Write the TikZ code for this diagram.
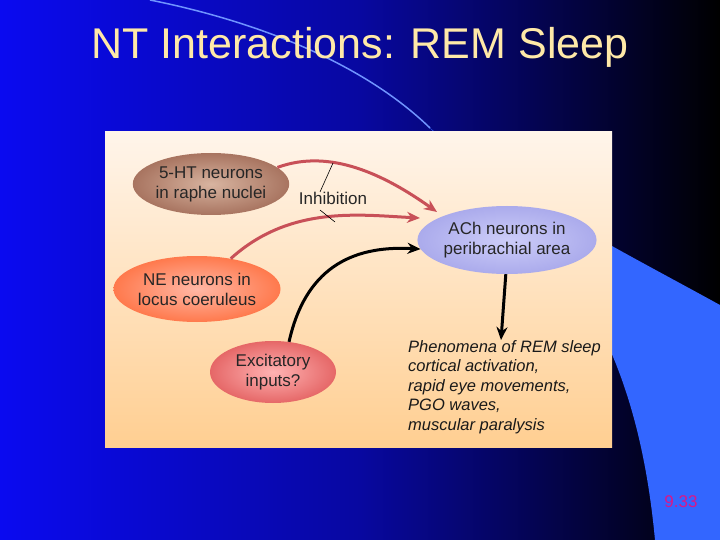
\documentclass[tikz,border=0pt]{standalone}
\usepackage{fontspec}
\setmainfont{Liberation Sans}
\usetikzlibrary{arrows.meta,shapes.geometric}
\definecolor{bgblue}{HTML}{0A0AF0}
\definecolor{midblue}{HTML}{0808A0}
\definecolor{shapeblue}{HTML}{3366FF}
\definecolor{redarrow}{HTML}{C85058}
\definecolor{titlecol}{HTML}{FFE9A8}
\definecolor{htin}{HTML}{D8B4A0}
\definecolor{htout}{HTML}{A87460}
\tikzset{
  ell/.style={ellipse,minimum width=#1,inner sep=0pt,align=center,font=\fontsize{17}{20}\selectfont,text=black!85},
  redar/.style={draw=redarrow,line width=3pt,-{Stealth[length=13pt,width=11pt]}},
  blkar/.style={draw=black,line width=3pt,-{Stealth[length=13pt,width=11pt]}},
}
\begin{document}
\begin{tikzpicture}[x=1pt,y=-1pt]
\useasboundingbox (0,0) rectangle (720,540);
\shade[left color=bgblue,right color=black,middle color=midblue] (0,0) rectangle (720,540);
\fill[shapeblue] (430,128) .. controls (520,200) and (620,250) .. (720,305) -- (720,540) -- (655,540) .. controls (640,380) and (590,280) .. (500,200) -- cycle;
\draw[shapeblue!70!white,line width=1.5pt] (150,0) .. controls (250,20) and (360,60) .. (430,128);
\node (title) [text=titlecol,font=\fontsize{43}{48}\selectfont] at (360,47) {NT Interactions: REM Sleep};
\shade[top color=orange!8!white,bottom color=orange!40!white!95!yellow] (105,132) rectangle (612,447);
\node (ht) [ell=150pt,minimum height=62pt,shade,inner color=htin,outer color=htout] at (211,184) {5-HT neurons\\in raphe nuclei};
\node (ne) [ell=152pt,minimum height=66pt,shade,inner color=orange!40!red!35!white,outer color=orange!50!red!70!white] at (197,289) {NE neurons in\\locus coeruleus};
\node (ex) [ell=126pt,minimum height=62pt,shade,inner color=red!30!white,outer color=red!55!white!90!black] at (273,372) {Excitatory\\inputs?};
\node (ach) [ell=178pt,minimum height=68pt,shade,inner color=blue!18!white!95!gray,outer color=blue!30!white!85!gray] at (507,240) {ACh neurons in\\peribrachial area};
\node (inh) [font=\fontsize{17}{20}\selectfont,text=black!85] at (333,198) {Inhibition};
\node (ph) [anchor=north west,align=left,font=\fontsize{16.5}{19.5}\selectfont\itshape,text=black!90,inner sep=0pt] at (408,340) {Phenomena of REM sleep\\cortical activation,\\rapid eye movements,\\PGO waves,\\muscular paralysis};
\coordinate (a1) at (437,212);
\coordinate (a2) at (420,218);
\draw[redar] (ht.14) .. controls (330,148) and (385,175) .. (a1);
\draw[redar] (ne.42) .. controls (290,205) and (360,215) .. (a2);
\draw[blkar] (ex.62) .. controls (305,270) and (350,245) .. (ach.186);
\draw[blkar] (ach.268) -- (ph.north -| 501,0);
\draw[black,line width=0.6pt] (333,163) -- (320,192) (320,210) -- (335,222);
\node[text=magenta!80!violet,font=\fontsize{17}{20}\selectfont] at (681,502) {9.33};
\end{tikzpicture}
\end{document}
